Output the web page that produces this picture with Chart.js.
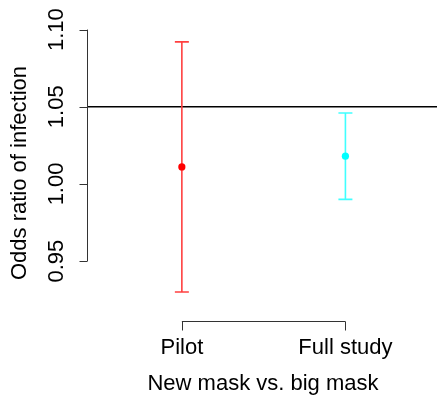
<!DOCTYPE html>
<html><head><meta charset="utf-8">
<script src="https://cdn.jsdelivr.net/npm/chart.js@4/dist/chart.umd.min.js"></script>
<style>html,body{margin:0;padding:0;background:#fff}#wrap{width:437px;height:398px}</style>
</head><body><div id="wrap"><canvas id="c" width="437" height="398"></canvas></div>
<script>
const categories = ['Pilot', 'Full study'];
const xPositions = [1, 2];
const estimates = [1.011, 1.018];
const lowerCI = [0.930, 0.990];
const upperCI = [1.092, 1.046];
const seriesColors = ['#ff0000', '#00ffff'];
const barColors = ['#ff4040', '#40ffff'];
const yTicks = [0.95, 1.00, 1.05, 1.10];
const yTickLabels = ['0.95', '1.00', '1.05', '1.10'];
const refLine = 1.05;
const xTitle = 'New mask vs. big mask';
const yTitle = 'Odds ratio of infection';

const FONT = '22px "Liberation Sans", Arial, Helvetica, sans-serif';

const drawPlugin = {
  id: 'rstyle',
  beforeDatasetsDraw(chart) {
    const ctx = chart.ctx, x = chart.scales.x, y = chart.scales.y, ca = chart.chartArea;
    ctx.save();
    ctx.strokeStyle = '#000'; ctx.lineWidth = 1.3;
    const yr = y.getPixelForValue(refLine);
    ctx.beginPath(); ctx.moveTo(ca.left, yr); ctx.lineTo(ca.right, yr); ctx.stroke();
    for (let i = 0; i < categories.length; i++) {
      const px = x.getPixelForValue(xPositions[i]);
      const yl = y.getPixelForValue(lowerCI[i]), yu = y.getPixelForValue(upperCI[i]);
      ctx.strokeStyle = barColors[i]; ctx.lineWidth = 1.6;
      ctx.beginPath();
      ctx.moveTo(px, yl); ctx.lineTo(px, yu);
      ctx.moveTo(px - 7, yl); ctx.lineTo(px + 7, yl);
      ctx.moveTo(px - 7, yu); ctx.lineTo(px + 7, yu);
      ctx.stroke();
    }
    ctx.restore();
  },
  afterDraw(chart) {
    const ctx = chart.ctx, x = chart.scales.x, y = chart.scales.y, ca = chart.chartArea;
    ctx.save();
    ctx.strokeStyle = '#333'; ctx.lineWidth = 1;
    ctx.fillStyle = '#000'; ctx.font = FONT;
    const ax = Math.round(ca.left) + 0.5;
    const yTop = y.getPixelForValue(yTicks[yTicks.length - 1]);
    const yBot = y.getPixelForValue(yTicks[0]);
    ctx.beginPath(); ctx.moveTo(ax, yTop); ctx.lineTo(ax, yBot);
    yTicks.forEach(v => { const py = Math.round(y.getPixelForValue(v)) + 0.5; ctx.moveTo(ax, py); ctx.lineTo(ax - 8, py); });
    ctx.stroke();
    ctx.textAlign = 'center'; ctx.textBaseline = 'middle';
    yTicks.forEach((v, i) => {
      const py = y.getPixelForValue(v);
      ctx.save(); ctx.translate(57, py); ctx.rotate(-Math.PI / 2);
      ctx.fillText(yTickLabels[i], 0, 0); ctx.restore();
    });
    const xl = x.getPixelForValue(xPositions[0]), xr = x.getPixelForValue(xPositions[xPositions.length - 1]);
    const axY = 321.5;
    ctx.beginPath(); ctx.moveTo(xl, axY); ctx.lineTo(xr, axY);
    xPositions.forEach(v => { const px = Math.round(x.getPixelForValue(v)) + 0.5; ctx.moveTo(px, axY); ctx.lineTo(px, axY + 9); });
    ctx.stroke();
    categories.forEach((c, i) => ctx.fillText(c, x.getPixelForValue(xPositions[i]), 348));
    ctx.fillText(xTitle, 263, 384);
    ctx.save(); ctx.translate(20, 173); ctx.rotate(-Math.PI / 2); ctx.fillText(yTitle, 0, 0); ctx.restore();
    ctx.restore();
  }
};

new Chart(document.getElementById('c'), {
  type: 'scatter',
  data: {
    datasets: [{
      data: xPositions.map((v, i) => ({ x: v, y: estimates[i] })),
      pointBackgroundColor: seriesColors,
      pointBorderColor: seriesColors,
      pointRadius: 3.6,
      pointBorderWidth: 0
    }]
  },
  options: {
    responsive: false,
    animation: false,
    layout: { autoPadding: false, padding: { left: 87, right: 0, top: 20, bottom: 68 } },
    plugins: { legend: { display: false }, tooltip: { enabled: false } },
    scales: {
      x: { type: 'linear', min: 0.42, max: 2.56, display: false },
      y: { type: 'linear', min: 0.9054, max: 1.1062, display: false }
    }
  },
  plugins: [drawPlugin]
});
</script></body></html>
